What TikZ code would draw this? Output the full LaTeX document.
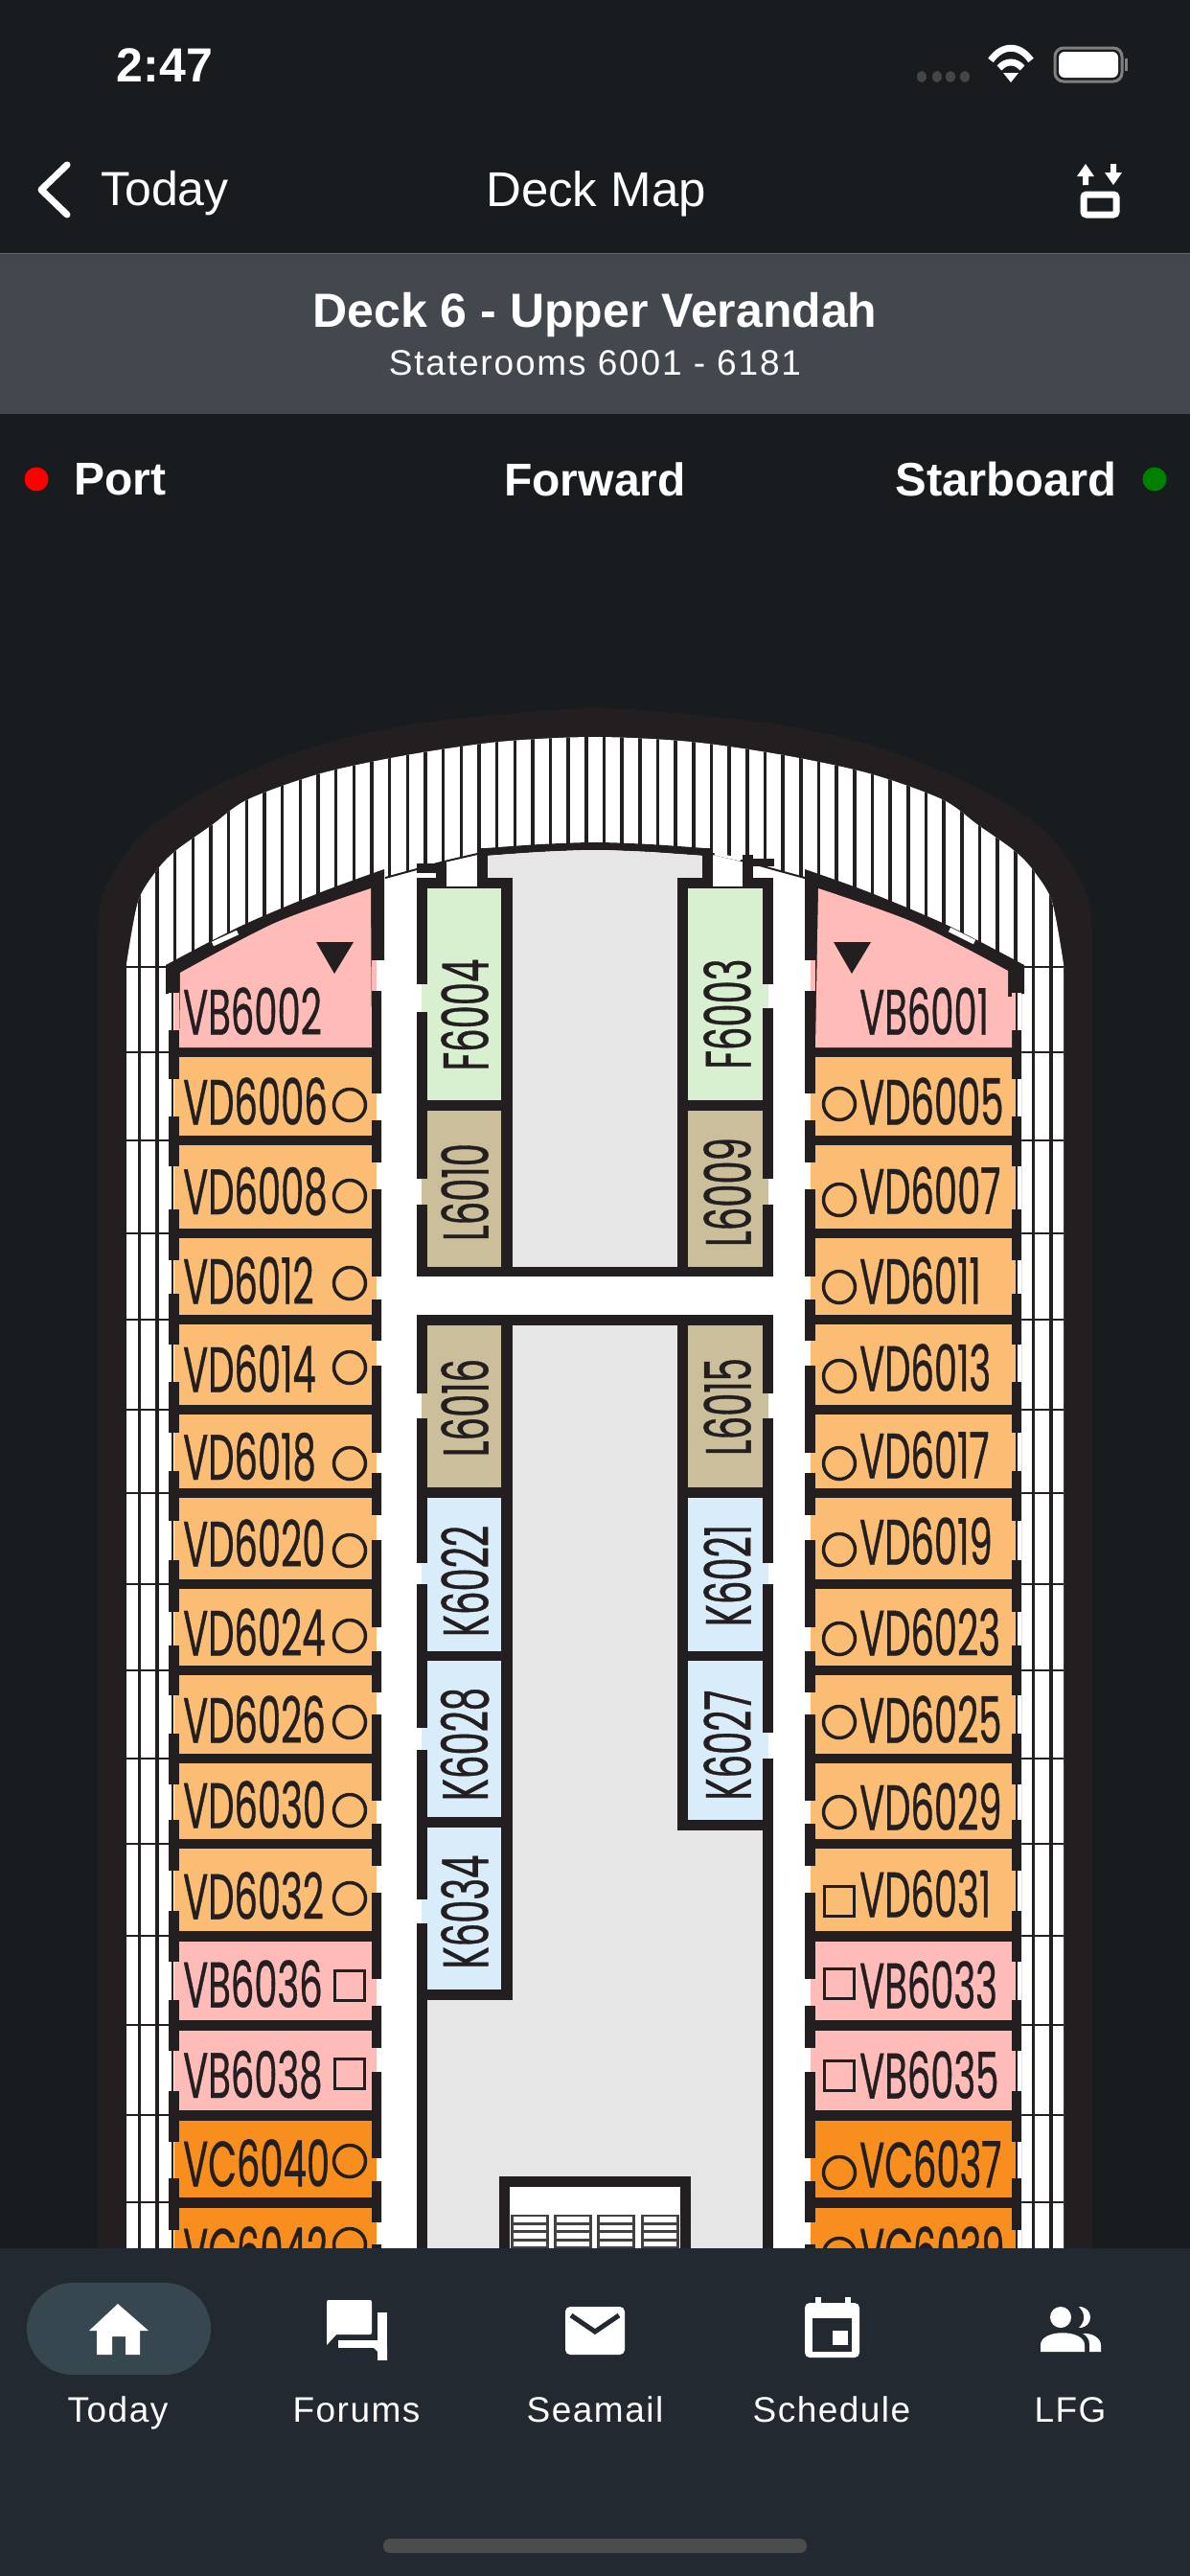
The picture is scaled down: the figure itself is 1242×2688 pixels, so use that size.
\documentclass[tikz,border=0pt]{standalone}
\usepackage{fontspec}
\setmainfont{Liberation Sans}
\newfontfamily\cabinfont[FakeStretch=0.575,FakeBold=0.5,RawFeature=+tnum]{Poppins}
\newfontfamily\tabfont[LetterSpace=4]{Liberation Sans}
\newfontfamily\subfont[LetterSpace=5]{Liberation Sans}
\usepackage{tikz}
\usetikzlibrary{positioning,calc}
\definecolor{screenbg}{HTML}{181C1F}
\definecolor{bannerbg}{HTML}{43474E}
\definecolor{tabbg}{HTML}{222930}
\definecolor{pillbg}{HTML}{36474F}
\definecolor{wallc}{HTML}{231F20}
\definecolor{floorc}{HTML}{E6E6E6}
\definecolor{vbpink}{HTML}{FFBBB8}
\definecolor{vdorange}{HTML}{FBBD74}
\definecolor{vcorange}{HTML}{F78E1E}
\definecolor{fgreen}{HTML}{D9F0D0}
\definecolor{ltan}{HTML}{CBBE9B}
\definecolor{kblue}{HTML}{D9ECFA}
\begin{document}
\begin{tikzpicture}[x=1pt, y=-1pt, line cap=butt]
\tikzstyle{uitext}=[text=white, inner sep=0pt]
\tikzstyle{cabinlabel}=[text=wallc, inner sep=0pt, anchor=west, font=\cabinfont\fontsize{67}{67}\selectfont]
\tikzstyle{sidelabel}=[text=wallc, inner sep=0pt, rotate=90, font=\cabinfont\fontsize{67}{67}\selectfont]
\tikzstyle{roundmark}=[draw=wallc, line width=3.5pt, circle, minimum size=33pt, inner sep=0pt]
\tikzstyle{squaremark}=[draw=wallc, line width=3.5pt, rectangle, minimum size=31pt, inner sep=0pt]
\tikzstyle{tabtext}=[text=white, inner sep=0pt, anchor=base, font=\tabfont\fontsize{37}{37}\selectfont]
\useasboundingbox (0,0) rectangle (1242,2688);
\fill[screenbg] (0,0) rectangle (1242,2688);

% hull and louvers
\fill[wallc] (102,2346) -- plot[smooth] coordinates {(102,1006) (107,934) (149,870) (218,824) (321,781) (424,757) (528,745) (621,739) (714,745) (818,757) (921,781) (1024,824) (1093,870) (1135,934) (1140,1006)} -- (1140,2346) -- cycle;
\begin{scope}
\clip (132,2346) -- plot[smooth] coordinates {(132,1006) (144,941) (163,909) (183,888) (221,861) (259,834) (335,807) (424,788) (521,774) (621,769) (721,774) (818,788) (907,807) (983,834) (1021,861) (1059,888) (1079,909) (1098,941) (1110,1006)} -- (1110,2346) -- cycle;
\fill[white] (100,730) rectangle (1142,2346);
\foreach \k in {0,...,51}
  \draw[wallc, line width=3.5pt] ({145.4+18.66*\k},740) -- ({145.4+18.66*\k},2346);
\foreach \y in {1009,1098,1190,1287,1377,1471,1558,1653,1743,1835,1924,2020,2113,2207,2298}
  \draw[wallc, line width=2.5pt] (132,\y) -- (1110,\y);
\end{scope}

% deck floor
\fill[white] (176,2346) -- plot[smooth] coordinates {(176,1006) (252,970) (335,938) (402,916) (435,907) (464,899) (507,889) (621,879) (735,889) (778,899) (807,907) (840,916) (907,938) (990,970) (1066,1006)} -- (1066,2346) -- cycle;
\draw[wallc, line width=2pt] plot[smooth] coordinates {(402,916) (435,907) (464,899) (507,889)};
\draw[wallc, line width=2pt] plot[smooth] coordinates {(735,889) (778,899) (807,907) (840,916)};
\fill[wallc] plot[smooth] coordinates {(507,885) (564,881) (621,879) (678,881) (735,885)} -- (735,893) -- plot[smooth] coordinates {(678,889) (621,887) (564,889) (507,893)} -- cycle;
\fill[floorc] plot[smooth] coordinates {(509,893) (564,889) (621,887) (678,889) (733,893)} -- (733,920) -- (708,920) -- (708,1325) -- (535,1325) -- (535,920) -- (509,920) -- cycle;
\fill[floorc] (535,1380) rectangle (708,1905);
\fill[floorc] (535,1905) rectangle (796,2090);
\fill[floorc] (446,2085) rectangle (796,2346);

% port cabins
\fill[wallc] plot[smooth] coordinates {(173,1007) (252,966) (335,931) (401,907)} -- (401,1002) -- (398,1002) -- (398,2346) -- (176,2346) -- (176,1037) -- (173,1037) -- cycle;
\fill[vbpink] plot[smooth] coordinates {(188,1015) (287,963) (387,927)} -- (388,1093) -- (187,1093) -- cycle;
\fill[vdorange] (187,1103) rectangle (388,1185);
\fill[vdorange] (187,1195) rectangle (388,1282);
\fill[vdorange] (187,1292) rectangle (388,1372);
\fill[vdorange] (187,1382) rectangle (388,1466);
\fill[vdorange] (187,1476) rectangle (388,1553);
\fill[vdorange] (187,1563) rectangle (388,1648);
\fill[vdorange] (187,1658) rectangle (388,1738);
\fill[vdorange] (187,1748) rectangle (388,1830);
\fill[vdorange] (187,1840) rectangle (388,1919);
\fill[vdorange] (187,1929) rectangle (388,2015);
\fill[vbpink] (187,2026) rectangle (388,2108);
\fill[vbpink] (187,2119) rectangle (388,2202);
\fill[vcorange] (187,2213) rectangle (388,2293);
\fill[vcorange] (187,2304) rectangle (388,2346);

% starboard cabins
\fill[wallc] plot[smooth] coordinates {(1069,1007) (990,966) (907,931) (840,907)} -- (840,2346) -- (1066,2346) -- (1066,1037) -- (1069,1037) -- cycle;
\fill[wallc] (841,1006) rectangle (851,2346);
\fill[vbpink] plot[smooth] coordinates {(1052,1013) (955,963) (854,927)} -- (851,1093) -- (1056,1093) -- (1056,1040) -- (1052,1040) -- cycle;
\fill[vdorange] (851,1103) rectangle (1056,1185);
\fill[vdorange] (851,1195) rectangle (1056,1282);
\fill[vdorange] (851,1292) rectangle (1056,1372);
\fill[vdorange] (851,1382) rectangle (1056,1466);
\fill[vdorange] (851,1476) rectangle (1056,1553);
\fill[vdorange] (851,1563) rectangle (1056,1648);
\fill[vdorange] (851,1658) rectangle (1056,1738);
\fill[vdorange] (851,1748) rectangle (1056,1830);
\fill[vdorange] (851,1840) rectangle (1056,1919);
\fill[vdorange] (851,1929) rectangle (1056,2015);
\fill[vbpink] (851,2026) rectangle (1056,2108);
\fill[vbpink] (851,2119) rectangle (1056,2202);
\fill[vcorange] (851,2213) rectangle (1056,2293);
\fill[vcorange] (851,2304) rectangle (1056,2346);

% balcony doors and corridor doors
\foreach \ya/\yb/\col in {1036/1075/vbpink,1126/1165/vdorange,1217/1262/vdorange,1315/1350/vdorange,1403/1442/vdorange,1495/1535/vdorange,1587/1628/vdorange,1682/1717/vdorange,1769/1809/vdorange,1862/1899/vdorange,1952/1994/vdorange,2047/2087/vbpink,2140/2182/vbpink,2235/2273/vcorange,2327/2346/vcorange} {
  \fill[white] (176,\ya) rectangle (182,\yb);
  \fill[\col] (182,\ya) rectangle (187,\yb);
  \fill[wallc] (179,\ya) rectangle (181,\yb);
  \fill[\col] (1056,\ya) rectangle (1060,\yb);
  \fill[white] (1060,\ya) rectangle (1066,\yb);
  \fill[wallc] (1060,\ya) rectangle (1062,\yb);
}
\foreach \ya/\yb/\col in {1002/1034/vbpink,1141/1169/vdorange,1213/1241/vdorange,1332/1356/vdorange,1399/1425/vdorange,1516/1537/vdorange,1581/1607/vdorange,1698/1723/vdorange,1766/1789/vdorange,1879/1903/vdorange,1947/1975/vdorange,2065/2093/vbpink,2137/2162/vbpink,2252/2276/vcorange,2319/2342/vcorange} {
  \fill[\col] (388,\ya) rectangle (393,\yb);
  \fill[white] (393,\ya) rectangle (401,\yb);
  \fill[white] (838,\ya) rectangle (846,\yb);
  \fill[\col] (846,\ya) rectangle (851,\yb);
}
\draw[white, line width=5pt] (222,985) -- (248,973);
\draw[white, line width=5pt] (991,970) -- (1017,983);
\fill[wallc] (330,983) -- (369,983) -- (349,1016) -- cycle;
\fill[wallc] (870,983) -- (909,983) -- (889,1016) -- cycle;

% inner cabin columns
\fill[wallc] (435,916) rectangle (535,1332);
\fill[wallc] (435,1372) rectangle (535,2087);
\fill[wallc] (435,2087) rectangle (446,2346);
\fill[wallc] (535,1322) rectangle (708,1332);
\fill[wallc] (535,1372) rectangle (708,1383);
\fill[wallc] (707,916) rectangle (807,1332);
\fill[wallc] (707,1372) rectangle (807,1910);
\fill[wallc] (796,1910) rectangle (807,2346);
\fill[fgreen] (446,927) rectangle (523,1148);
\fill[ltan] (446,1159) rectangle (523,1322);
\fill[ltan] (446,1383) rectangle (523,1552);
\fill[kblue] (446,1563) rectangle (523,1723);
\fill[kblue] (446,1733) rectangle (523,1896);
\fill[kblue] (446,1907) rectangle (523,2076);
\fill[fgreen] (718,927) rectangle (796,1148);
\fill[ltan] (718,1159) rectangle (796,1322);
\fill[ltan] (718,1383) rectangle (796,1552);
\fill[kblue] (718,1563) rectangle (796,1723);
\fill[kblue] (718,1733) rectangle (796,1899);
\foreach \ya/\yb/\col in {1027/1056/fgreen,1230/1257/ltan,1454/1480/ltan,1631/1653/kblue,1803/1826/kblue,1982/2007/kblue} {
  \fill[white] (435,\ya) rectangle (440,\yb);
  \fill[\col] (440,\ya) rectangle (446,\yb);
}
\foreach \ya/\yb/\col in {1027/1052/fgreen,1230/1257/ltan,1454/1480/ltan,1631/1653/kblue,1808/1835/kblue} {
  \fill[\col] (796,\ya) rectangle (802,\yb);
  \fill[white] (802,\ya) rectangle (807,\yb);
}

% forward doors on the inner columns
\fill[white] (466,912) rectangle (498,925);
\fill[white] (744,912) rectangle (775,925);
\fill[wallc] (455,900) rectangle (466,916);
\fill[wallc] (498,885) rectangle (509,916);
\fill[wallc] (733,885) rectangle (744,916);
\fill[wallc] (775,892) rectangle (786,916);
\fill[wallc] (435,901) rectangle (464,911);
\fill[wallc] (786,896) rectangle (808,904);
\draw[white, line width=3pt] (468,901) -- (496,895);
\draw[white, line width=3pt] (746,891) -- (773,897);

% elevator box
\fill[wallc] (521,2271) rectangle (721,2346);
\fill[white] (532,2282) rectangle (710,2346);
\foreach \gx in {533,578,623,669} {
  \fill[wallc!85] (\gx,2311) rectangle ++(40,35);
  \foreach \gy in {2313,2321.5,2330,2338.5}
    \fill[white] (\gx+3,\gy) rectangle ++(34,5.5);
}

% port labels
\node[cabinlabel] (VB6002) at (191,1055) {VB6002};
\node[cabinlabel] (VD6006) at (191,1149) {VD6006};
\node[cabinlabel] (VD6008) at (191,1243) {VD6008};
\node[cabinlabel] (VD6012) at (191,1336) {VD6012};
\node[cabinlabel] (VD6014) at (191,1428) {VD6014};
\node[cabinlabel] (VD6018) at (191,1520) {VD6018};
\node[cabinlabel] (VD6020) at (191,1610) {VD6020};
\node[cabinlabel] (VD6024) at (191,1703) {VD6024};
\node[cabinlabel] (VD6026) at (191,1794) {VD6026};
\node[cabinlabel] (VD6030) at (191,1883) {VD6030};
\node[cabinlabel] (VD6032) at (191,1978) {VD6032};
\node[cabinlabel] (VB6036) at (191,2070) {VB6036};
\node[cabinlabel] (VB6038) at (191,2165) {VB6038};
\node[cabinlabel] (VC6040) at (191,2257) {VC6040};
\node[cabinlabel] (VC6042) at (191,2348) {VC6042};
\node[roundmark] (M6006) at (365,1153) {};
\node[roundmark] (M6008) at (365,1248) {};
\node[roundmark] (M6012) at (365,1339) {};
\node[roundmark] (M6014) at (365,1427) {};
\node[roundmark] (M6018) at (365,1527) {};
\node[roundmark] (M6020) at (365,1618) {};
\node[roundmark] (M6024) at (365,1707) {};
\node[roundmark] (M6026) at (365,1797) {};
\node[roundmark] (M6030) at (365,1889) {};
\node[roundmark] (M6032) at (365,1981) {};
\node[squaremark] (M6036) at (365,2072) {};
\node[squaremark] (M6038) at (365,2164) {};
\node[roundmark] (M6040) at (365,2255) {};
\node[roundmark] (M6042) at (365,2342) {};

% starboard labels
\node[cabinlabel] (VB6001) at (897,1055) {VB6001};
\node[cabinlabel] (VD6005) at (897,1149) {VD6005};
\node[cabinlabel] (VD6007) at (897,1242) {VD6007};
\node[cabinlabel] (VD6011) at (897,1336) {VD6011};
\node[cabinlabel] (VD6013) at (897,1427) {VD6013};
\node[cabinlabel] (VD6017) at (897,1518) {VD6017};
\node[cabinlabel] (VD6019) at (897,1608) {VD6019};
\node[cabinlabel] (VD6023) at (897,1703) {VD6023};
\node[cabinlabel] (VD6025) at (897,1794) {VD6025};
\node[cabinlabel] (VD6029) at (897,1885) {VD6029};
\node[cabinlabel] (VD6031) at (897,1976) {VD6031};
\node[cabinlabel] (VB6033) at (897,2071) {VB6033};
\node[cabinlabel] (VB6035) at (897,2165) {VB6035};
\node[cabinlabel] (VC6037) at (897,2258) {VC6037};
\node[cabinlabel] (VC6039) at (897,2348) {VC6039};
\node[roundmark] (M6005) at (876,1152) {};
\node[roundmark] (M6007) at (876,1252) {};
\node[roundmark] (M6011) at (876,1343) {};
\node[roundmark] (M6013) at (876,1436) {};
\node[roundmark] (M6017) at (876,1527) {};
\node[roundmark] (M6019) at (876,1617) {};
\node[roundmark] (M6023) at (876,1710) {};
\node[roundmark] (M6025) at (876,1797) {};
\node[roundmark] (M6029) at (876,1891) {};
\node[squaremark] (M6031) at (876,1984) {};
\node[squaremark] (M6033) at (876,2070) {};
\node[squaremark] (M6035) at (876,2166) {};
\node[roundmark] (M6037) at (876,2267) {};
\node[roundmark] (M6039) at (876,2352) {};

% inner labels
\node[sidelabel] (F6004) at (485,1059) {F6004};
\node[sidelabel] (L6010) at (485,1244) {L6010};
\node[sidelabel] (L6016) at (485,1469) {L6016};
\node[sidelabel] (K6022) at (485,1650) {K6022};
\node[sidelabel] (K6028) at (485,1820) {K6028};
\node[sidelabel] (K6034) at (485,1995) {K6034};
\node[sidelabel] (F6003) at (759,1058) {F6003};
\node[sidelabel] (L6009) at (759,1244) {L6009};
\node[sidelabel] (L6015) at (759,1468) {L6015};
\node[sidelabel] (K6021) at (759,1644) {K6021};
\node[sidelabel] (K6027) at (759,1821) {K6027};

% status and navigation bars
\fill[screenbg] (0,0) rectangle (1242,264);
\node[uitext, font=\bfseries\fontsize{50}{50}\selectfont] (clock) at (172,68) {2:47};
\foreach \dx in {962,978,992,1007}
  \fill[gray!55!black] (\dx,80) ellipse (5 and 6);
\draw[white, line width=7pt] (1034,63) .. controls (1046,46) and (1064,46) .. (1076,63);
\draw[white, line width=7pt] (1043,71) .. controls (1050,63) and (1060,63) .. (1067,71);
\fill[white] (1047,76) -- (1063,76) -- (1055,86) -- cycle;
\draw[gray, line width=3pt, rounded corners=9pt] (1101,50) rectangle (1171,85);
\fill[white, rounded corners=6pt] (1105,54) rectangle (1167,81);
\fill[gray] (1174,61) rectangle (1177,74);
\draw[white, line width=7pt, line cap=round, line join=round] (70,172) -- (43,198) -- (70,224);
\node[uitext, anchor=west, font=\fontsize{50}{50}\selectfont] (today) at (105,202) {Today};
\node[uitext, font=\fontsize{51}{51}\selectfont] (title) at (622,202) {Deck Map};
\fill[white] (1133,171) -- (1142,184) -- (1136,184) -- (1136,193) -- (1130,193) -- (1130,184) -- (1124,184) -- cycle;
\fill[white] (1162,193) -- (1153,180) -- (1159,180) -- (1159,171) -- (1165,171) -- (1165,180) -- (1171,180) -- cycle;
\draw[white, line width=7pt, rounded corners=3pt] (1131,203) rectangle (1165,224);

% banner
\fill[bannerbg] (0,264) rectangle (1242,432);
\draw[gray!80!black, line width=1pt] (0,264) -- (1242,264);
\node[uitext, font=\bfseries\fontsize{50}{50}\selectfont] (deckname) at (621,329) {Deck 6 - Upper Verandah};
\node[uitext, font=\subfont\fontsize{37}{37}\selectfont] (range) [below=13pt of deckname] {Staterooms 6001 - 6181};

% port and starboard row
\fill[red] (38,500) circle (12.5);
\fill[green!50!black] (1205,500) circle (12.5);
\node[uitext, anchor=west, font=\bfseries\fontsize{48}{48}\selectfont] (port) at (77,500) {Port};
\node[uitext, font=\bfseries\fontsize{48}{48}\selectfont] (forward) at (621,500) {Forward};
\node[uitext, anchor=east, font=\bfseries\fontsize{49}{49}\selectfont] (starboard) at (1166,500) {Starboard};

% tab bar
\fill[tabbg] (0,2346) rectangle (1242,2688);
\fill[pillbg, rounded corners=48pt] (28,2382) rectangle (220,2478);
\fill[white] (123,2404) -- (155,2432) -- (146,2432) -- (146,2457) -- (131,2457) -- (131,2438) -- (117,2438) -- (117,2457) -- (101,2457) -- (101,2432) -- (93,2432) -- cycle;
\fill[white, rounded corners=2pt] (341,2400) rectangle (388,2436);
\fill[white] (341,2434) -- (341,2447) -- (353,2434) -- cycle;
\fill[white] (394,2413) rectangle (404,2463);
\fill[white] (353,2442) rectangle (396,2450);
\fill[white] (390,2450) -- (404,2450) -- (404,2463) -- cycle;
\fill[white, rounded corners=5pt] (590,2407) rectangle (652,2457);
\draw[tabbg, line width=5pt] (596,2416) -- (621,2433) -- (646,2416);
\fill[white] (851,2397) rectangle (857,2405);
\fill[white] (882,2397) rectangle (888,2405);
\fill[white, rounded corners=5pt] (840,2403) rectangle (897,2460);
\fill[tabbg] (848,2419) rectangle (889,2454);
\fill[white] (869,2432) rectangle (885,2447);
\fill[white] (1107,2418) circle (11);
\fill[white] (1126,2407) .. controls (1142,2407) and (1142,2429) .. (1126,2429) .. controls (1133,2422) and (1133,2414) .. (1126,2407) -- cycle;
\fill[white] (1086,2454) -- (1086,2447) .. controls (1086,2430) and (1132,2430) .. (1132,2447) -- (1132,2454) -- cycle;
\fill[white] (1137,2454) -- (1137,2446) .. controls (1137,2441) and (1134,2437) .. (1130,2435) .. controls (1140,2434) and (1149,2440) .. (1149,2447) -- (1149,2454) -- cycle;
\node[tabtext] (tabtoday) at (123,2527) {Today};
\node[tabtext] (tabforums) at (372,2527) {Forums};
\node[tabtext] (tabseamail) at (621,2527) {Seamail};
\node[tabtext] (tabschedule) at (868,2527) {Schedule};
\node[tabtext] (tablfg) at (1117,2527) {LFG};
\fill[gray!60!black, rounded corners=7pt] (400,2649) rectangle (842,2664);
\end{tikzpicture}
\end{document}
